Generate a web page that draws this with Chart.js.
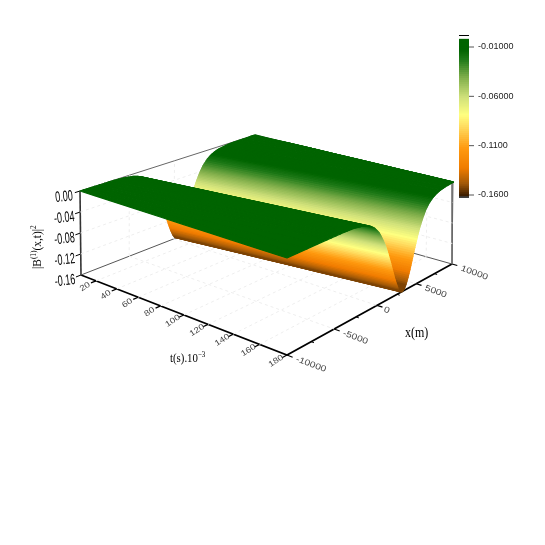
<!DOCTYPE html>
<html>
<head>
<meta charset="utf-8">
<script src="https://cdn.jsdelivr.net/npm/chart.js@4"></script>
<style>
  html, body { margin: 0; padding: 0; background: #fff; }
  canvas { display: block; }
</style>
</head>
<body>
<canvas id="surfaceChart" width="545" height="545"></canvas>
<script>
// values
const tTicks = [20, 40, 60, 80, 100, 120, 140, 160, 180];
const xTicks = [-10000, -5000, 0, 5000, 10000];
const xMinorTicks = [-7500, -2500, 2500, 7500];
const zTicks = [0, -0.04, -0.08, -0.12, -0.16];
const zTickLabels = ['0.00', '-0.04', '-0.08', '-0.12', '-0.16'];
const barTicks = [-0.01, -0.06, -0.11, -0.16];
const barTickLabels = ['-0.01000', '-0.06000', '-0.1100', '-0.1600'];

// where the trough sits at each time
const tValues = [5, 20, 40, 60, 80, 100, 120, 140, 160, 180];
const troughCentre = [400, 635, 950, 1265, 1580, 1895, 2205, 2520, 2835, 3150];

// trough cross section, distance from the centre against height
const profileOffset = [14000, 9000, 7000, 6000, 5000, 4500, 4000, 3500, 3000, 2750, 2500, 2250, 2000, 1750, 1500, 1250, 1000, 750, 500, 250, 0,
    -250, -500, -750, -1000, -1250, -1500, -1750, -2000, -2250, -2500, -2750, -3000, -3500, -4000, -4500, -5000, -6000, -7000, -9000, -14000];
const profileHeight = [0, -0.0001, -0.0007, -0.0018, -0.0047, -0.0077, -0.012, -0.019, -0.030, -0.038, -0.047, -0.057, -0.069, -0.083, -0.097, -0.112, -0.127, -0.140, -0.151, -0.158, -0.160,
    -0.158, -0.151, -0.140, -0.127, -0.112, -0.097, -0.083, -0.069, -0.057, -0.047, -0.038, -0.030, -0.019, -0.012, -0.0077, -0.0047, -0.0018, -0.0007, -0.0001, 0];

// colour map
const colourLevels = [-0.16, -0.148, -0.132, -0.112, -0.09, -0.078, -0.06, -0.04, -0.022, -0.012, 0.002];
const colourValues = ['#3a1c00', '#a05808', '#f07c00', '#ff9a10', '#ffdc60', '#ffff80', '#cfe07a', '#7fae4a', '#1f7a18', '#006400', '#006400'];

// box corners on screen, t min/x min, t max/x min, t max/x max, t min/x max
const floorCorners = [[81, 275], [287, 355], [452, 264], [253, 208]];
const topCorners = [[80, 191], [287, 258], [453, 182], [255, 135]];
const tMin = 5, tMax = 180, xMin = -10000, xMax = 10000, zMin = -0.16, zMax = 0;

function homography(q) {
    const [[x0, y0], [x1, y1], [x2, y2], [x3, y3]] = q;
    const sx = x0 - x1 + x2 - x3, sy = y0 - y1 + y2 - y3;
    const dx1 = x1 - x2, dx2 = x3 - x2, dy1 = y1 - y2, dy2 = y3 - y2;
    const den = dx1 * dy2 - dx2 * dy1;
    const g = (sx * dy2 - dx2 * sy) / den;
    const h = (dx1 * sy - sx * dy1) / den;
    const a = x1 - x0 + g * x1, b = x3 - x0 + h * x3;
    const d = y1 - y0 + g * y1, e = y3 - y0 + h * y3;
    return (s, r) => {
        const w = g * s + h * r + 1;
        return [(a * s + b * r + x0) / w, (d * s + e * r + y0) / w];
    };
}

const floorMap = homography(floorCorners);
const topMap = homography(topCorners);

function project(t, x, z) {
    const s = (t - tMin) / (tMax - tMin);
    const r = (x - xMin) / (xMax - xMin);
    const f = (z - zMin) / (zMax - zMin);
    const a = floorMap(s, r), b = topMap(s, r);
    return { x: a[0] + (b[0] - a[0]) * f, y: a[1] + (b[1] - a[1]) * f };
}

function hexToRgb(hex) {
    return [1, 3, 5].map(i => parseInt(hex.substr(i, 2), 16));
}

function colourFor(z) {
    if (z <= colourLevels[0]) return colourValues[0];
    for (let i = 1; i < colourLevels.length; i++) {
        if (z <= colourLevels[i]) {
            const f = (z - colourLevels[i - 1]) / (colourLevels[i] - colourLevels[i - 1]);
            const a = hexToRgb(colourValues[i - 1]), b = hexToRgb(colourValues[i]);
            return 'rgb(' + a.map((v, k) => Math.round(v + (b[k] - v) * f)).join(',') + ')';
        }
    }
    return colourValues[colourValues.length - 1];
}

const datasets = [];

function addLine(points, color, width, dash) {
    datasets.push({
        data: points,
        showLine: true,
        fill: false,
        borderColor: color,
        borderWidth: width,
        borderDash: dash || [],
        pointRadius: 0,
        tension: 0
    });
}

// grid, floor and the two back walls, box edges are drawn separately
const gridColour = '#eeeeee';
const gridDash = [3, 3];
tTicks.slice(0, -1).forEach(t => {
    addLine([project(t, xMin, zMin), project(t, xMax, zMin)], gridColour, 1, gridDash);
    addLine([project(t, xMax, zMin), project(t, xMax, zMax)], gridColour, 1, gridDash);
});
xTicks.slice(1, -1).forEach(x => {
    addLine([project(tMin, x, zMin), project(tMax, x, zMin)], gridColour, 1, gridDash);
    addLine([project(tMin, x, zMin), project(tMin, x, zMax)], gridColour, 1, gridDash);
});
zTicks.slice(1, 4).forEach(z => {
    addLine([project(tMin, xMin, z), project(tMin, xMax, z)], gridColour, 1, gridDash);
    addLine([project(tMin, xMax, z), project(tMax, xMax, z)], gridColour, 1, gridDash);
});

// box edges
addLine([project(tMin, xMin, zMax), project(tMin, xMax, zMax), project(tMax, xMax, zMax), project(tMax, xMax, zMin)], '#666', 1);
addLine([project(tMin, xMin, zMin), project(tMin, xMax, zMin), project(tMax, xMax, zMin)], '#555', 1);

// axes
addLine([project(tMin, xMin, zMin), project(tMin, xMin, zMax)], '#333', 1.6);
addLine([project(tMin, xMin, zMin), project(tMax, xMin, zMin), project(tMax, xMax, zMin)], '#000', 1.7);
tTicks.forEach(t => addLine([project(t, xMin, zMin), project(t, xMin - 500, zMin)], '#000', 1.2));
xTicks.forEach(x => addLine([project(tMax, x, zMin), project(tMax + 4, x, zMin)], '#000', 1.2));
xMinorTicks.forEach(x => addLine([project(tMax, x, zMin), project(tMax + 2, x, zMin)], '#000', 1));
zTicks.forEach(z => addLine([project(tMin, xMin, z), project(tMin, xMin - 500, z)], '#000', 1));

// colour bar, lines overlap so no white shows between them
const barLeft = 459, barRight = 469;
const barY = z => 47 + (z + 0.01) / -0.15 * 148;
for (let z = -0.0035; z > zMin; z -= 0.002) {
    addLine([{ x: barLeft, y: barY(z) }, { x: barRight, y: barY(z) }], colourFor(z), 3.5);
}
addLine([{ x: barLeft, y: barY(zMin) + 2 }, { x: barRight, y: barY(zMin) + 2 }], '#000', 1.5);
addLine([{ x: barLeft, y: 35.5 }, { x: barRight, y: 35.5 }], '#000', 1);
barTicks.forEach(z => addLine([{ x: barRight, y: barY(z) }, { x: barRight + 5, y: barY(z) }], '#555', 1));

// one line along t for each profile sample, far side first
const surfaceStart = datasets.length;
profileOffset.forEach((off, i) => {
    datasets.push({
        data: tValues.map((t, k) => {
            const x = Math.min(xMax, Math.max(xMin, troughCentre[k] + off));
            return project(t, x, profileHeight[i]);
        }),
        showLine: false,
        pointRadius: 0
    });
});

function drawLabel(ctx, text, x, y, opts) {
    ctx.save();
    ctx.translate(x, y);
    ctx.rotate((opts.angle || 0) * Math.PI / 180);
    ctx.scale(opts.scaleX || 1, 1);
    ctx.font = opts.font;
    ctx.fillStyle = opts.color || '#000';
    ctx.textAlign = opts.align || 'center';
    ctx.textBaseline = 'middle';
    ctx.fillText(text, 0, 0);
    ctx.restore();
}

// text with raised parts, written left to right from the start point
function drawRich(ctx, parts, x, y, angle, size, scaleX) {
    ctx.save();
    ctx.translate(x, y);
    ctx.rotate(angle * Math.PI / 180);
    ctx.scale(scaleX, 1);
    ctx.fillStyle = '#000';
    ctx.textBaseline = 'alphabetic';
    let pos = 0;
    parts.forEach(p => {
        ctx.font = (p.sup ? size * 0.65 : size) + 'px "Liberation Serif"';
        ctx.fillText(p.text, pos, p.sup ? -size * 0.42 : 0);
        pos += ctx.measureText(p.text).width;
    });
    ctx.restore();
}

const subBands = 4;
const surfaceColourFloor = -0.152;

const surfacePlugin = {
    id: 'surfacePlugin',
    afterDatasetsDraw(chart) {
        const ctx = chart.ctx;
        ctx.save();
        // wide enough that the dark far side never shows through the seams
        ctx.lineWidth = 1.3;
        ctx.lineJoin = 'round';
        for (let i = surfaceStart; i < datasets.length - 1; i++) {
            const a = chart.getDatasetMeta(i).data;
            const b = chart.getDatasetMeta(i + 1).data;
            const idx = i - surfaceStart;
            const za = profileHeight[idx], zb = profileHeight[idx + 1];
            // each gap between two samples is shaded in a few flat steps
            for (let j = 0; j < subBands; j++) {
                const f0 = j / subBands, f1 = (j + 1) / subBands;
                const colour = colourFor(Math.max(surfaceColourFloor, za + (zb - za) * (f0 + f1) / 2));
                ctx.fillStyle = colour;
                ctx.strokeStyle = colour;
                ctx.beginPath();
                for (let k = 0; k < a.length; k++) {
                    const x = a[k].x + (b[k].x - a[k].x) * f0, y = a[k].y + (b[k].y - a[k].y) * f0;
                    if (k === 0) ctx.moveTo(x, y); else ctx.lineTo(x, y);
                }
                for (let k = a.length - 1; k >= 0; k--) {
                    ctx.lineTo(a[k].x + (b[k].x - a[k].x) * f1, a[k].y + (b[k].y - a[k].y) * f1);
                }
                ctx.closePath();
                ctx.fill();
                ctx.stroke();
            }
        }
        ctx.restore();

        // tick labels
        const sx = chart.scales.x, sy = chart.scales.y;
        const px = p => [sx.getPixelForValue(p.x), sy.getPixelForValue(p.y)];
        tTicks.forEach(t => {
            const [x, y] = px(project(t, xMin, zMin));
            drawLabel(ctx, String(t), x - 11, y + 6, { font: '8px "Liberation Sans"', angle: -33, scaleX: 1.2, color: '#444' });
        });
        xTicks.forEach(v => {
            const [x, y] = px(project(tMax, v, zMin));
            drawLabel(ctx, String(v), x + (v === 0 ? 7 : 9), y + 4, { font: '8.5px "Liberation Sans"', angle: 20, scaleX: 1.2, align: 'left', color: '#444' });
        });
        zTicks.forEach((z, i) => {
            const [x, y] = px(project(tMin, xMin, z));
            drawLabel(ctx, zTickLabels[i], x - 16, y + 6, { font: '15px "Liberation Sans"', angle: -6, scaleX: 0.6 });
        });
        barTicks.forEach((z, i) => {
            drawLabel(ctx, barTickLabels[i], sx.getPixelForValue(barRight + 9), sy.getPixelForValue(barY(z)), { font: '9px "Liberation Sans"', align: 'left', color: '#222' });
        });

        // axis titles
        drawRich(ctx, [{ text: 't(s).10' }, { text: '\u22123', sup: true }], 170, 362, 0, 12, 0.9);
        drawRich(ctx, [{ text: 'x(m)' }], 405, 337, 0, 15, 0.8);
        drawRich(ctx, [{ text: '|B' }, { text: '(1)', sup: true }, { text: '(x,t)|' }, { text: '2', sup: true }], 41, 269, -90, 12, 0.95);
    }
};

new Chart(document.getElementById('surfaceChart').getContext('2d'), {
    type: 'scatter',
    data: { datasets: datasets },
    options: {
        responsive: false,
        animation: false,
        events: [],
        layout: { padding: 0 },
        plugins: { legend: { display: false }, tooltip: { enabled: false } },
        scales: {
            x: { type: 'linear', display: false, min: 0, max: 545 },
            y: { type: 'linear', display: false, min: 0, max: 545, reverse: true }
        }
    },
    plugins: [surfacePlugin]
});
</script>
</body>
</html>
